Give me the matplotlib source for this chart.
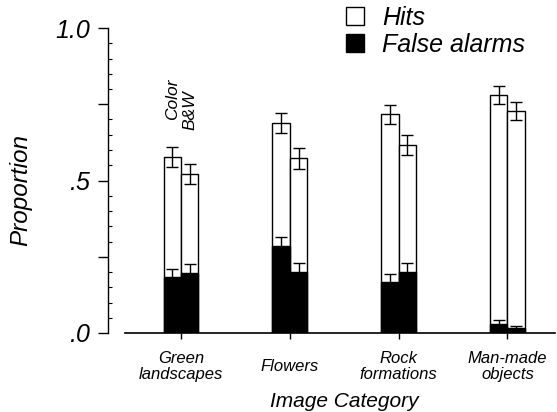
import matplotlib
matplotlib.use("Agg")
import matplotlib.pyplot as plt
import numpy as np
from matplotlib.lines import Line2D

# ---- data ----
categories = ["Green\nlandscapes", "Flowers", "Rock\nformations", "Man-made\nobjects"]
hits_color = [0.576, 0.688, 0.717, 0.781]
hits_bw = [0.521, 0.573, 0.616, 0.729]
hits_color_err = [0.033, 0.033, 0.031, 0.029]
hits_bw_err = [0.034, 0.034, 0.034, 0.030]
fa_color = [0.183, 0.286, 0.168, 0.028]
fa_bw = [0.198, 0.201, 0.201, 0.015]
fa_color_err = [0.027, 0.030, 0.025, 0.014]
fa_bw_err = [0.027, 0.027, 0.027, 0.008]
ytick_vals = [0.0, 0.25, 0.5, 0.75, 1.0]
ytick_labels = [".0", "", ".5", "", "1.0"]

plt.rcParams['font.family'] = ['Liberation Sans', 'DejaVu Sans']
plt.rcParams['font.style'] = 'italic'

W, H = 557, 412
fig = plt.figure(figsize=(W / 100, H / 100), dpi=100)
ax_left, ax_right, ax_bot, ax_top = 108, 555, 333, 28
ax = fig.add_axes([ax_left / W, (H - ax_bot) / H, (ax_right - ax_left) / W, (ax_bot - ax_top) / H])

x = np.arange(len(categories))
bw = 0.16
xl0, xl1 = -0.671, 3.437
ax.set_xlim(xl0, xl1)
ax.set_ylim(0, 1)

ekw = dict(ecolor='black', elinewidth=1.0, capsize=4, capthick=1.0)
ax.bar(x - bw / 2, hits_color, bw, color='white', edgecolor='black', linewidth=1.0, zorder=2)
ax.bar(x + bw / 2, hits_bw, bw, color='white', edgecolor='black', linewidth=1.0, zorder=2)
ax.bar(x - bw / 2, fa_color, bw, color='black', edgecolor='black', linewidth=1.0, zorder=3)
ax.bar(x + bw / 2, fa_bw, bw, color='black', edgecolor='black', linewidth=1.0, zorder=3)
ax.errorbar(x - bw / 2, hits_color, yerr=hits_color_err, fmt='none', zorder=4, **ekw)
ax.errorbar(x + bw / 2, hits_bw, yerr=hits_bw_err, fmt='none', zorder=4, **ekw)
ax.errorbar(x - bw / 2, fa_color, yerr=fa_color_err, fmt='none', zorder=4, **ekw)
ax.errorbar(x + bw / 2, fa_bw, yerr=fa_bw_err, fmt='none', zorder=4, **ekw)

# Color / B&W annotations over first group
ax.text(x[0] - bw / 2, 0.70, "Color", rotation=90, ha='center', va='bottom', fontsize=12.5)
ax.text(x[0] + bw / 2, 0.664, "B&W", rotation=90, ha='center', va='bottom', fontsize=12.5)

# spines
for s in ['top', 'right']:
    ax.spines[s].set_visible(False)
ax.spines['left'].set_bounds(0, 1)
ax.spines['bottom'].set_bounds((125 - 181) / 108.83, xl1)
ax.spines['left'].set_linewidth(1.0)
ax.spines['bottom'].set_linewidth(1.2)

# y ticks
ax.set_yticks(ytick_vals)
ax.set_yticklabels(ytick_labels, fontsize=18)
ax.set_yticks(np.arange(0, 1.0001, 0.05), minor=True)
ax.tick_params(axis='y', which='major', direction='out', length=7, width=1, pad=6)
ax.tick_params(axis='y', which='minor', direction='in', length=3, width=0.8)

# x ticks
ax.set_xticks(x)
ax.set_xticklabels(categories, fontsize=12, linespacing=1.05)
for lab in ax.get_xticklabels():
    lab.set_va('center')
ax.tick_params(axis='x', which='major', direction='out', length=4, width=1, pad=20)

# axis labels
ax.set_xlabel("Image Category", fontsize=15)
ax.xaxis.set_label_coords((1.5 - xl0) / (xl1 - xl0), -0.193)
ax.set_ylabel("Proportion", fontsize=17.5)
ax.yaxis.set_label_coords(-0.169, 0.47)

# legend
handles = [
    Line2D([], [], marker='s', markersize=13, markerfacecolor='white', markeredgecolor='black',
           markeredgewidth=1.0, linestyle='none'),
    Line2D([], [], marker='s', markersize=13, markerfacecolor='black', markeredgecolor='black',
           linestyle='none'),
]
fig.legend(handles, ["Hits", "False alarms"], loc='upper left',
           bbox_to_anchor=(341 / W, 1 - 6 / H), frameon=False, fontsize=18,
           labelspacing=0.12, handletextpad=0.55, handlelength=1.1, borderpad=0,
           borderaxespad=0)

fig.savefig("out.png", dpi=100)
